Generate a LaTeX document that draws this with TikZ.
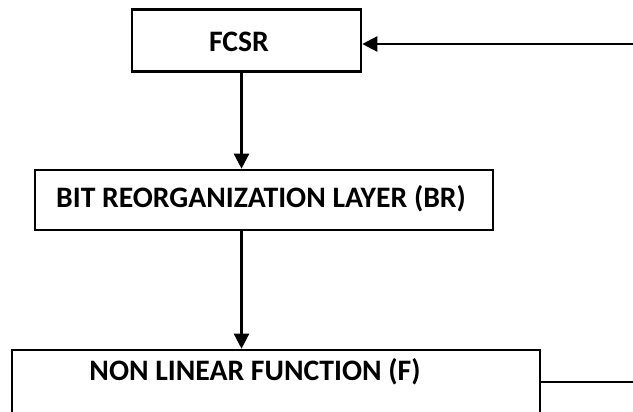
\documentclass[tikz,border=0pt]{standalone}
\usepackage{fontspec}
\setmainfont{Carlito}
\usetikzlibrary{arrows.meta}
\tikzset{
  boxnode/.style={draw, line width=2.6pt, inner sep=0pt, rectangle},
  boxtext/.style={font=\fontsize{29.7}{34}\selectfont\bfseries, inner sep=0pt, anchor=center},
  conn/.style={line width=2.4pt},
  arr/.style={conn, -{Triangle[length=15pt,width=15pt]}}
}
\begin{document}
\begin{tikzpicture}[x=1pt,y=-1pt]
\useasboundingbox (0,0) rectangle (633,412);
\clip (0,0) rectangle (633,412);
% boxes
\node[boxnode, minimum width=229pt, minimum height=62.4pt] (fcsr) at (246.5,40.5) {};
\node[boxtext] (fcsrt) at (239,41.5) {FCSR};
\node[boxnode, minimum width=458pt, minimum height=60pt] (br) at (264,200) {};
\node[boxtext] (brt) at (261,198.5) {BIT REORGANIZATION LAYER (BR)};
\node[boxnode, minimum width=528pt, minimum height=90pt] (nf) at (276,395) {};
\node[boxtext] (nft) at (255,372) {NON LINEAR FUNCTION (F)};
% helper coordinates
\coordinate (fbin) at (640,44);
\coordinate (fbout) at (640,381.7);
\coordinate (ax) at (241.5,0);
% connectors
\draw[arr] (fbin) -- (fcsr.east |- fbin);
\draw[arr] (fcsr.south -| ax) -- (br.north -| ax);
\draw[arr] (br.south -| ax) -- (nf.north -| ax);
\draw[conn] (nf.east |- fbout) -- (fbout);
\end{tikzpicture}
\end{document}
